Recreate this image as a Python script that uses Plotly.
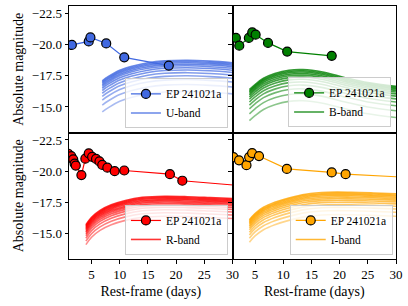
import plotly.graph_objects as go
from plotly.subplots import make_subplots

# ---------------- EP 241021a photometry (rest-frame days, absolute mag) ----------------
u_days = [1.5, 4.5, 4.8, 7.6, 10.8, 18.7]
u_mags = [-19.98, -20.26, -20.58, -20.10, -18.98, -18.32]

b_days = [1.6, 2.2, 3.9, 4.5, 5.1, 7.3, 10.7, 18.6]
b_mags = [-20.54, -19.92, -20.54, -20.98, -20.80, -20.14, -19.44, -19.10]

r_days = [0.85, 1.4, 1.75, 2.0, 2.2, 3.2, 3.9, 4.5, 5.1, 5.8, 6.4, 6.9, 7.8, 9.1, 10.8, 18.9, 21.1, 35.0]
r_mags = [-21.40, -21.20, -20.95, -20.60, -20.45, -19.68, -21.00, -21.43, -21.15, -20.98,
          -20.78, -20.50, -20.28, -20.00, -20.05, -19.76, -19.23, -18.70]

i_days = [1.16, 2.16, 3.48, 3.95, 4.48, 5.7, 10.64, 18.6, 21.06, 35.0]
i_mags = [-21.13, -20.87, -20.48, -21.13, -21.45, -21.21, -20.18, -19.90, -19.76, -19.43]

# ---------------- model light-curve families ----------------
u_model_days = [6.9, 8, 10, 12, 15, 18, 22, 26, 30]
u_models = [
    [-17.10, -17.45, -17.95, -18.25, -18.55, -18.70, -18.75, -18.68, -18.55],
    [-17.00, -17.35, -17.85, -18.15, -18.45, -18.60, -18.65, -18.58, -18.45],
    [-16.90, -17.25, -17.75, -18.05, -18.35, -18.50, -18.55, -18.48, -18.35],
    [-16.78, -17.13, -17.63, -17.93, -18.23, -18.38, -18.43, -18.36, -18.23],
    [-16.65, -17.00, -17.50, -17.80, -18.10, -18.25, -18.30, -18.23, -18.10],
    [-16.50, -16.85, -17.35, -17.65, -17.95, -18.10, -18.15, -18.08, -17.95],
    [-16.32, -16.67, -17.17, -17.47, -17.77, -17.92, -17.97, -17.90, -17.77],
    [-16.10, -16.45, -16.95, -17.25, -17.55, -17.70, -17.75, -17.68, -17.55],
    [-15.85, -16.20, -16.70, -17.00, -17.30, -17.45, -17.50, -17.43, -17.30],
    [-15.55, -15.90, -16.40, -16.70, -17.00, -17.15, -17.20, -17.13, -17.00],
    [-15.15, -15.50, -16.00, -16.30, -16.60, -16.75, -16.80, -16.73, -16.60],
    [-14.60, -14.95, -15.45, -15.75, -16.05, -16.20, -16.25, -16.18, -16.05],
]

b_model_days = [4, 5, 6.5, 8.5, 11, 13.5, 17, 21, 25, 30]
b_models = [
    [-16.40, -16.80, -17.30, -17.68, -17.95, -18.00, -17.80, -17.35, -16.95, -16.65],
    [-16.30, -16.70, -17.20, -17.58, -17.85, -17.90, -17.70, -17.25, -16.85, -16.55],
    [-16.20, -16.60, -17.10, -17.48, -17.75, -17.80, -17.60, -17.15, -16.75, -16.45],
    [-16.08, -16.48, -16.98, -17.36, -17.63, -17.68, -17.48, -17.03, -16.63, -16.33],
    [-15.95, -16.35, -16.85, -17.23, -17.50, -17.55, -17.35, -16.90, -16.50, -16.20],
    [-15.80, -16.20, -16.70, -17.08, -17.35, -17.40, -17.20, -16.75, -16.35, -16.05],
    [-15.62, -16.02, -16.52, -16.90, -17.17, -17.22, -17.02, -16.57, -16.17, -15.87],
    [-15.40, -15.80, -16.30, -16.68, -16.95, -17.00, -16.80, -16.35, -15.95, -15.65],
    [-15.15, -15.55, -16.05, -16.43, -16.70, -16.75, -16.55, -16.10, -15.70, -15.40],
    [-14.85, -15.25, -15.75, -16.13, -16.40, -16.45, -16.25, -15.80, -15.40, -15.10],
    [-14.45, -14.85, -15.35, -15.73, -16.00, -16.05, -15.85, -15.40, -15.00, -14.70],
    [-13.90, -14.30, -14.80, -15.18, -15.45, -15.50, -15.30, -14.85, -14.45, -14.15],
]

r_model_days = [4, 5, 6.5, 8.5, 11, 14, 18, 22, 26, 30]
r_models = [
    [-15.70, -16.30, -16.85, -17.30, -17.65, -17.90, -17.98, -17.95, -17.88, -17.80],
    [-15.62, -16.22, -16.77, -17.22, -17.57, -17.82, -17.90, -17.87, -17.80, -17.72],
    [-15.54, -16.14, -16.69, -17.14, -17.49, -17.74, -17.82, -17.79, -17.72, -17.64],
    [-15.45, -16.05, -16.60, -17.05, -17.40, -17.65, -17.73, -17.70, -17.63, -17.55],
    [-15.35, -15.95, -16.50, -16.95, -17.30, -17.55, -17.63, -17.60, -17.53, -17.45],
    [-15.24, -15.84, -16.39, -16.84, -17.19, -17.44, -17.52, -17.49, -17.42, -17.34],
    [-15.12, -15.72, -16.27, -16.72, -17.07, -17.32, -17.40, -17.37, -17.30, -17.22],
    [-14.98, -15.58, -16.13, -16.58, -16.93, -17.18, -17.26, -17.23, -17.16, -17.08],
    [-14.82, -15.42, -15.97, -16.42, -16.77, -17.02, -17.10, -17.07, -17.00, -16.92],
    [-14.62, -15.22, -15.77, -16.22, -16.57, -16.82, -16.90, -16.87, -16.80, -16.72],
    [-14.38, -14.98, -15.53, -15.98, -16.33, -16.58, -16.66, -16.63, -16.56, -16.48],
    [-14.10, -14.70, -15.25, -15.70, -16.05, -16.30, -16.38, -16.35, -16.28, -16.20],
]

i_model_days = [4, 5, 6.5, 8.5, 11, 14, 18, 22, 26, 30]
i_models = [
    [-16.10, -16.60, -17.10, -17.50, -17.85, -18.15, -18.30, -18.30, -18.25, -18.18],
    [-16.01, -16.51, -17.01, -17.41, -17.76, -18.06, -18.21, -18.21, -18.16, -18.09],
    [-15.92, -16.42, -16.92, -17.32, -17.67, -17.97, -18.12, -18.12, -18.07, -18.00],
    [-15.82, -16.32, -16.82, -17.22, -17.57, -17.87, -18.02, -18.02, -17.97, -17.90],
    [-15.71, -16.21, -16.71, -17.11, -17.46, -17.76, -17.91, -17.91, -17.86, -17.79],
    [-15.59, -16.09, -16.59, -16.99, -17.34, -17.64, -17.79, -17.79, -17.74, -17.67],
    [-15.45, -15.95, -16.45, -16.85, -17.20, -17.50, -17.65, -17.65, -17.60, -17.53],
    [-15.29, -15.79, -16.29, -16.69, -17.04, -17.34, -17.49, -17.49, -17.44, -17.37],
    [-15.10, -15.60, -16.10, -16.50, -16.85, -17.15, -17.30, -17.30, -17.25, -17.18],
    [-14.88, -15.38, -15.88, -16.28, -16.63, -16.93, -17.08, -17.08, -17.03, -16.96],
    [-14.62, -15.12, -15.62, -16.02, -16.37, -16.67, -16.82, -16.82, -16.77, -16.70],
    [-14.30, -14.80, -15.30, -15.70, -16.05, -16.35, -16.50, -16.50, -16.45, -16.38],
]

# ---------------- ticks ----------------
x_ticks = [5, 10, 15, 20, 25, 30]
x_tick_labels = ["5", "10", "15", "20", "25", "30"]
y_ticks = [-22.5, -20.0, -17.5, -15.0]
y_tick_labels = ["\u221222.5", "\u221220.0", "\u221217.5", "\u221215.0"]

FONT = "Liberation Serif"

# opacity of each model curve in a family (bright core, paler faint-end tail)
curve_alpha = [0.8, 0.8, 0.8, 0.8, 0.75, 0.75, 0.7, 0.65, 0.6, 0.55, 0.5, 0.45]

panels = [
    # row, col, band label, colour rgb, EP days, EP mags, model days, models, legend id
    (1, 1, "U-band", (65, 105, 225), u_days, u_mags, u_model_days, u_models, "legend"),
    (1, 2, "B-band", (0, 128, 0), b_days, b_mags, b_model_days, b_models, "legend2"),
    (2, 1, "R-band", (255, 0, 0), r_days, r_mags, r_model_days, r_models, "legend3"),
    (2, 2, "I-band", (255, 165, 0), i_days, i_mags, i_model_days, i_models, "legend4"),
]

fig = make_subplots(rows=2, cols=2, horizontal_spacing=0, vertical_spacing=0)

for row, col, band, rgb, ep_d, ep_m, md, models, leg in panels:
    solid = "rgb(%d,%d,%d)" % rgb
    for k, curve in enumerate(models):
        fig.add_trace(go.Scatter(
            x=md, y=curve, mode="lines",
            line=dict(color="rgba(%d,%d,%d,%.2f)" % (rgb + (curve_alpha[k],)),
                      width=1.6, shape="spline"),
            name=band, showlegend=(k == 0), legend=leg, legendrank=2,
            hoverinfo="skip"), row=row, col=col)
    fig.add_trace(go.Scatter(
        x=ep_d, y=ep_m, mode="lines+markers",
        line=dict(color=solid, width=1.2),
        marker=dict(size=9, color=solid, line=dict(color="black", width=1.2)),
        name="EP 241021a", legend=leg, legendrank=1), row=row, col=col)

axis_common = dict(showline=True, linecolor="black", linewidth=1, mirror=True,
                   showgrid=False, zeroline=False, ticks="outside", ticklen=3.5,
                   tickcolor="black", tickwidth=1,
                   tickfont=dict(family=FONT, size=13, color="black"))

for row in (1, 2):
    for col in (1, 2):
        xa = dict(axis_common, range=[1, 30], tickvals=x_ticks, ticktext=x_tick_labels)
        if row == 1:
            xa.update(showticklabels=False, ticks="")
        else:
            xa.update(title=dict(text="Rest-frame (days)", font=dict(family=FONT, size=14, color="black"),
                                 standoff=5))
        ya = dict(axis_common, range=[-12.95, -23.1], tickvals=y_ticks, ticktext=y_tick_labels)
        if col == 2:
            ya.update(showticklabels=False)
        else:
            ya.update(title=dict(text="Absolute magnitude", font=dict(family=FONT, size=14, color="black"),
                                 standoff=4))
        fig.update_xaxes(xa, row=row, col=col)
        fig.update_yaxes(ya, row=row, col=col)

legend_style = dict(bgcolor="rgba(255,255,255,0.8)", bordercolor="#cccccc", borderwidth=1,
                    font=dict(family=FONT, size=11.5, color="black"), itemwidth=30,
                    xanchor="right", yanchor="bottom", tracegroupgap=0)

fig.update_layout(
    width=408, height=306,
    margin=dict(l=69, r=8, t=5, b=47),
    plot_bgcolor="white", paper_bgcolor="white",
    font=dict(family=FONT, size=12, color="black"),
    legend=dict(legend_style, x=0.486, y=0.516),
    legend2=dict(legend_style, x=0.985, y=0.52),
    legend3=dict(legend_style, x=0.486, y=0.016),
    legend4=dict(legend_style, x=0.99, y=0.016),
)

fig.write_html("out.html", config={"displayModeBar": False},
               post_script="document.body.style.margin='0px';")
